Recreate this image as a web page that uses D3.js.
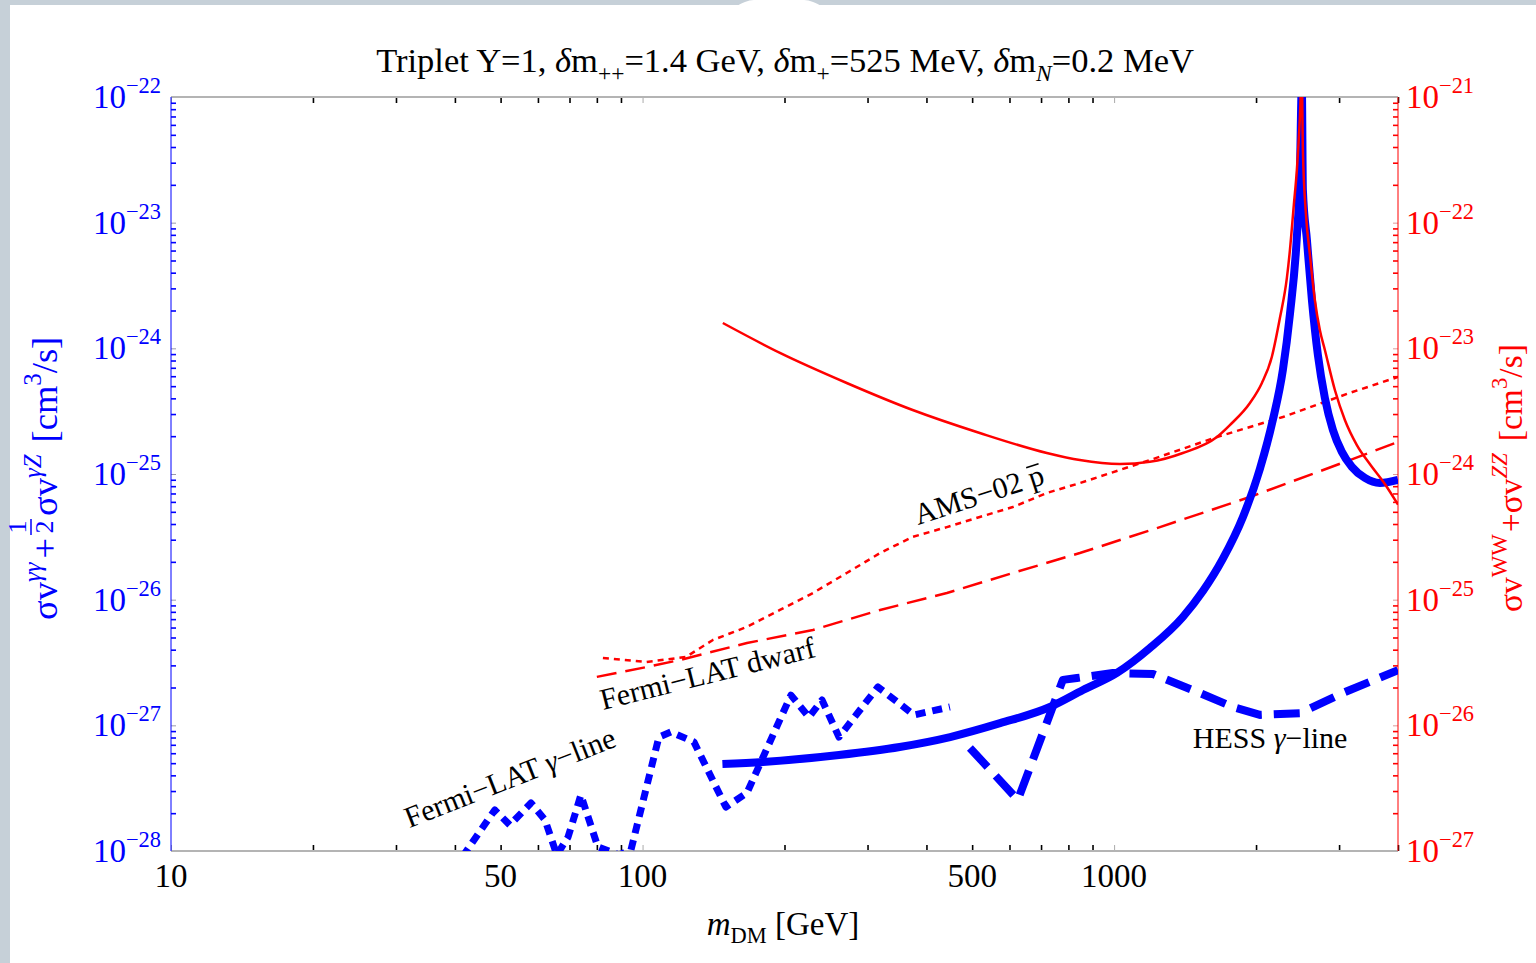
<!DOCTYPE html>
<html><head><meta charset="utf-8">
<script src="https://cdn.jsdelivr.net/npm/d3@7"></script>
<style>
html,body{margin:0;padding:0;background:#c6d0d8;overflow:hidden;}
svg{display:block;}
text{font-family:"Liberation Serif","Times New Roman",serif;}
</style></head><body>
<svg id="chart" width="1536" height="963"></svg>
<script>
// ---------------- data ----------------
const xLabelTicks = [10, 50, 100, 500, 1000];
const leftDecades = [-28, -27, -26, -25, -24, -23, -22];
const rightDecades = [-27, -26, -25, -24, -23, -22, -21];

// sigma v (gamma gamma + 1/2 gamma Z), left axis
const gammaMass  = [147.7, 180, 261, 351, 449, 573, 731, 859, 1014, 1191, 1399, 1543, 1700, 1876, 2038, 2171, 2280, 2360, 2441, 2477, 2501, 2514, 2564, 2627, 2705, 2799, 2911, 3041, 3193, 3403, 3661, 4000];
const gammaSigma = [4.92e-28, 5.11e-28, 5.81e-28, 6.73e-28, 8.07e-28, 1.04e-27, 1.40e-27, 1.91e-27, 2.61e-27, 4.12e-27, 7.28e-27, 1.17e-26, 2.11e-26, 4.55e-26, 1.10e-25, 2.69e-25, 6.73e-25, 1.87e-24, 7.69e-24, 2.31e-23, 1.2e-22, 1.82e-23, 7.28e-24, 2.43e-24, 8.85e-25, 4.03e-25, 2.24e-25, 1.50e-25, 1.14e-25, 9.3e-26, 8.48e-26, 8.96e-26];

// sigma v (WW + ZZ), right axis
const wwMass  = [148, 195.6, 271, 374, 519, 720, 846, 1029, 1191, 1399, 1652, 1760, 1941, 2058, 2160, 2247, 2325, 2360, 2405, 2441, 2477, 2500, 2514, 2551, 2602, 2665, 2731, 2799, 2939, 3086, 3272, 3486, 3751, 4000];
const wwSigma = [1.59e-23, 9.2e-24, 5.3e-24, 3.23e-24, 2.12e-24, 1.47e-24, 1.29e-24, 1.2e-24, 1.25e-24, 1.47e-24, 1.97e-24, 2.45e-24, 3.67e-24, 5.30e-24, 8.53e-24, 1.74e-23, 3.63e-23, 6.07e-23, 1.38e-22, 2.62e-22, 6.8e-22, 1.5e-21, 3.8e-22, 1.19e-22, 5.53e-23, 2.43e-23, 1.40e-23, 9.7e-24, 4.66e-24, 2.69e-24, 1.70e-24, 1.20e-24, 8.32e-25, 5.7e-25];

// AMS-02 antiproton bound, right axis
const amsMass  = [82.4, 102, 123.6, 141, 166.5, 195.6, 229.8, 271, 319, 374, 442, 519, 610, 720, 846, 1191, 1652, 2280, 3162, 4000];
const amsSigma = [3.44e-26, 3.19e-26, 3.50e-26, 4.78e-26, 6.07e-26, 8.28e-26, 1.13e-25, 1.63e-25, 2.35e-25, 3.16e-25, 3.78e-25, 4.55e-25, 5.46e-25, 7.06e-25, 8.47e-25, 1.29e-24, 1.97e-24, 2.84e-24, 4.42e-24, 5.92e-24];

// Fermi-LAT dwarf bound, right axis
const dwarfMass  = [80, 102, 120, 166.5, 229.8, 319, 442, 610, 846, 1251, 1941, 3162, 4000];
const dwarfSigma = [2.43e-26, 2.91e-26, 3.31e-26, 4.52e-26, 5.74e-26, 8.28e-26, 1.13e-25, 1.63e-25, 2.35e-25, 3.78e-25, 6.56e-25, 1.29e-24, 1.80e-24];

// Fermi-LAT gamma-line bound, left axis
const fermiLineMass  = [41.5, 48.6, 52.3, 58.0, 62.1, 65.8, 69.5, 74.0, 80.4, 89.1, 94.5, 108.3, 114.9, 128.5, 150.2, 166.5, 206.4, 225.4, 240.2, 260.9, 315.6, 376.3, 448.6];
const fermiLineSigma = [9e-29, 2.12e-28, 1.61e-28, 2.41e-28, 1.77e-28, 9.3e-29, 1.29e-28, 2.79e-28, 1.08e-28, 9.3e-29, 1.02e-28, 8.07e-28, 8.85e-28, 7.38e-28, 2.24e-28, 2.90e-28, 1.74e-27, 1.16e-27, 1.59e-27, 8.07e-28, 2.02e-27, 1.21e-27, 1.40e-27];

// HESS gamma-line bound, left axis
const hessMass  = [494.6, 625, 778.6, 834, 994, 1209, 1520, 1786, 2038, 2477, 3057, 4000];
const hessSigma = [6.61e-28, 2.55e-28, 2.30e-27, 2.38e-27, 2.61e-27, 2.56e-27, 1.81e-27, 1.40e-27, 1.21e-27, 1.25e-27, 1.81e-27, 2.75e-27];

// ---------------- layout ----------------
const W = 1536, H = 963;
const M = {l: 171, r: 1398, t: 97, b: 851};
const BLUE = "#0000ff", RED = "#ff0000";

const svg = d3.select("#chart");
svg.append("rect").attr("x", 10).attr("y", 5).attr("width", W - 10).attr("height", H - 5).attr("fill", "#fff");
svg.append("path").attr("d", "M737,6 C745,1 750,0 756,0 L802,0 C808,0 813,1 821,6 Z").attr("fill", "#fff");

const x = d3.scaleLog().domain([10, 4000]).range([M.l, M.r]);
const yL = d3.scaleLog().domain([1e-28, 1e-22]).range([M.b, M.t]);
const yR = d3.scaleLog().domain([1e-27, 1e-21]).range([M.b, M.t]);

const isDecade = v => Math.abs(Math.log10(v) - Math.round(Math.log10(v))) < 1e-9;

// rich text helper
function rich(sel, parts, base) {
  let cur = 0;
  parts.forEach(p => {
    const shift = p.sup ? -base * 0.45 : p.sub ? base * 0.25 : 0;
    const ts = sel.append("tspan").text(p.t).attr("dy", shift - cur)
      .attr("font-size", (p.sup || p.sub) ? base * (p.scale || 0.68) : base);
    if (p.it) ts.attr("font-style", "italic");
    if (p.dx) ts.attr("dx", p.dx);
    cur = shift;
  });
  return sel;
}

// ---------------- axes ----------------
const xt = x.ticks();
function styleTicks(g, color, majorColor) {
  g.select(".domain").remove();
  g.selectAll(".tick line").attr("stroke", d => isDecade(d) ? majorColor : color)
    .attr("stroke-width", d => isDecade(d) ? 1 : 1.6);
}
svg.append("g").attr("transform", `translate(0,${M.b})`)
  .call(d3.axisBottom(x).tickValues(xt).tickSizeInner(-6).tickSizeOuter(0).tickFormat(""))
  .call(g => styleTicks(g, "#000", "#aaa"));
svg.append("g").attr("transform", `translate(0,${M.t})`)
  .call(d3.axisTop(x).tickValues(xt).tickSizeInner(-6).tickSizeOuter(0).tickFormat(""))
  .call(g => styleTicks(g, "#000", "#aaa"));
svg.append("g").attr("transform", `translate(${M.l},0)`)
  .call(d3.axisLeft(yL).tickValues(yL.ticks()).tickSizeInner(-5).tickSizeOuter(0).tickFormat(""))
  .call(g => styleTicks(g, BLUE, "#99a"));
svg.append("g").attr("transform", `translate(${M.r},0)`)
  .call(d3.axisRight(yR).tickValues(yR.ticks()).tickSizeInner(-5).tickSizeOuter(0).tickFormat(""))
  .call(g => styleTicks(g, RED, "#d99"));

// frame lines
svg.append("line").attr("x1", M.l).attr("x2", M.r).attr("y1", M.b).attr("y2", M.b).attr("stroke", "#b4b4b4").attr("stroke-width", 2);
svg.append("line").attr("x1", M.l).attr("x2", M.r).attr("y1", M.t).attr("y2", M.t).attr("stroke", "#b4b4b4").attr("stroke-width", 2);
svg.append("line").attr("x1", M.l).attr("x2", M.l).attr("y1", M.t).attr("y2", M.b).attr("stroke", BLUE).attr("stroke-width", 1);
svg.append("line").attr("x1", M.r).attr("x2", M.r).attr("y1", M.t).attr("y2", M.b).attr("stroke", RED).attr("stroke-width", 1);

// tick labels
const FS = 33;
leftDecades.forEach(e => {
  rich(svg.append("text").attr("x", M.l - 10).attr("y", yL(Math.pow(10, e)) + 11)
    .attr("text-anchor", "end").attr("fill", BLUE),
    [{t: "10"}, {t: "\u2212" + Math.abs(e), sup: true}], FS);
});
rightDecades.forEach(e => {
  rich(svg.append("text").attr("x", M.r + 8).attr("y", yR(Math.pow(10, e)) + 11)
    .attr("text-anchor", "start").attr("fill", RED),
    [{t: "10"}, {t: "\u2212" + Math.abs(e), sup: true}], FS);
});
xLabelTicks.forEach(v => {
  svg.append("text").attr("x", x(v)).attr("y", 887).attr("text-anchor", "middle")
    .attr("font-size", FS).attr("fill", "#000").text(v);
});

// title
rich(svg.append("text").attr("x", 785).attr("y", 72).attr("text-anchor", "middle").attr("fill", "#000"),
  [{t: "Triplet Y=1, "}, {t: "\u03b4", it: true}, {t: "m"}, {t: "++", sub: true}, {t: "=1.4 GeV, "},
   {t: "\u03b4", it: true}, {t: "m"}, {t: "+", sub: true}, {t: "=525 MeV, "},
   {t: "\u03b4", it: true}, {t: "m"}, {t: "N", sub: true, it: true}, {t: "=0.2 MeV"}], 34.5);

// x axis title
rich(svg.append("text").attr("x", 783).attr("y", 935).attr("text-anchor", "middle").attr("fill", "#000"),
  [{t: "m", it: true}, {t: "DM", sub: true}, {t: " [GeV]"}], 33);

// left axis title (rotated, with fraction)
{
  const AF = 36.5;
  const g = svg.append("g").attr("transform", "translate(57,620) rotate(-90)").attr("fill", BLUE);
  const t1 = rich(g.append("text").attr("x", 0).attr("y", 0),
    [{t: "\u03c3v"}, {t: "\u03b3\u03b3", sup: true, it: true}, {t: "+", dx: 4}], AF);
  const w1 = t1.node().getComputedTextLength() + 4;
  const fx = w1 + 11;
  g.append("text").attr("x", fx).attr("y", -31).attr("text-anchor", "middle").attr("font-size", 26).text("1");
  g.append("line").attr("x1", fx - 8).attr("x2", fx + 8).attr("y1", -26).attr("y2", -26).attr("stroke", BLUE).attr("stroke-width", 1.5);
  g.append("text").attr("x", fx).attr("y", -4).attr("text-anchor", "middle").attr("font-size", 26).text("2");
  rich(g.append("text").attr("x", fx + 11).attr("y", 0),
    [{t: "\u03c3v"}, {t: "\u03b3Z", sup: true, it: true}, {t: "[cm", dx: 12}, {t: "3", sup: true}, {t: "/s]"}], AF);
}
// right axis title
rich(svg.append("g").attr("transform", "translate(1522,612) rotate(-90)").attr("fill", RED).append("text"),
  [{t: "\u03c3v"}, {t: "WW", sup: true}, {t: "+", dx: 2}, {t: "\u03c3v"}, {t: "ZZ", sup: true, it: true}, {t: "[cm", dx: 12}, {t: "3", sup: true}, {t: "/s]"}], 33.5);

// ---------------- curves ----------------
svg.append("clipPath").attr("id", "plotclip").append("rect")
  .attr("x", M.l).attr("y", M.t).attr("width", M.r - M.l).attr("height", M.b - M.t);
const plot = svg.append("g").attr("clip-path", "url(#plotclip)");

function draw(mass, sig, ys, opts) {
  const data = mass.map((m, i) => [m, sig[i]]);
  const line = d3.line().x(d => x(d[0])).y(d => ys(d[1])).curve(opts.curve || d3.curveLinear);
  plot.append("path").datum(data).attr("d", line).attr("fill", "none")
    .attr("stroke", opts.color).attr("stroke-width", opts.width)
    .attr("stroke-dasharray", opts.dash || null)
    .attr("stroke-linejoin", "round").attr("stroke-linecap", "butt");
}
draw(amsMass, amsSigma, yR, {color: RED, width: 2.5, dash: "6,5"});
draw(dwarfMass, dwarfSigma, yR, {color: RED, width: 2.5, dash: "20,9"});
draw(fermiLineMass, fermiLineSigma, yL, {color: BLUE, width: 7, dash: "10,7"});
draw(hessMass, hessSigma, yL, {color: BLUE, width: 8, dash: "26,12"});
draw(gammaMass, gammaSigma, yL, {color: BLUE, width: 8, curve: d3.curveMonotoneX});
draw(wwMass, wwSigma, yR, {color: RED, width: 2.5, curve: d3.curveMonotoneX});

// ---------------- annotations ----------------
const LFS = 30;
{
  const g = svg.append("g").attr("transform", `translate(${x(384)},${yR(3.93e-25)}) rotate(-18)`);
  const t = g.append("text").attr("font-size", LFS).attr("fill", "#000").text("AMS\u221202 p");
  const n = t.node();
  const L = n.getSubStringLength(0, 7), pw = n.getSubStringLength(7, 1);
  g.append("line").attr("x1", L + 1).attr("x2", L + pw - 1).attr("y1", -21).attr("y2", -21)
    .attr("stroke", "#000").attr("stroke-width", 1.5);
}
svg.append("text").attr("transform", `translate(${x(82.4)},${yR(1.59e-26) + 10}) rotate(-14)`)
  .attr("font-size", LFS).attr("fill", "#000").text("Fermi\u2212LAT dwarf");
rich(svg.append("text").attr("transform", `translate(${x(32)},${yL(1.52e-28)}) rotate(-21.5)`).attr("fill", "#000"),
  [{t: "Fermi\u2212LAT "}, {t: "\u03b3", it: true}, {t: "\u2212line"}], LFS);
rich(svg.append("text").attr("x", x(1469)).attr("y", yL(6.6e-28)).attr("fill", "#000"),
  [{t: "HESS "}, {t: "\u03b3", it: true}, {t: "\u2212line"}], LFS);
</script>
</body></html>
